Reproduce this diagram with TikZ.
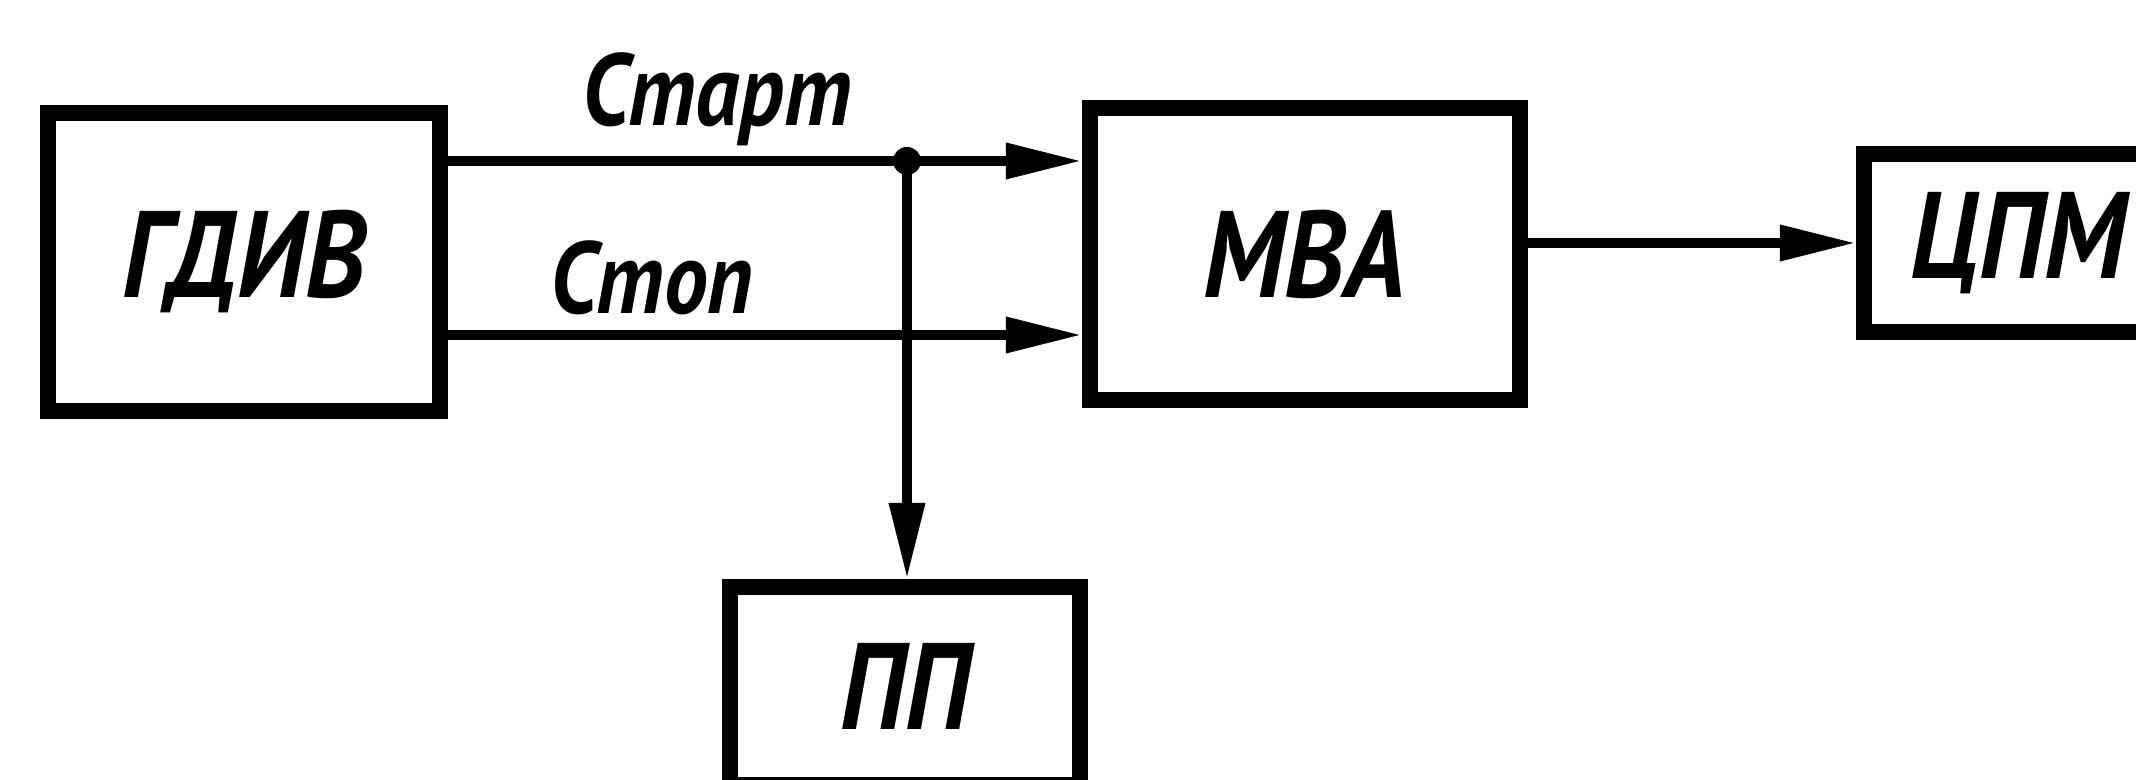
\documentclass[tikz,border=0pt]{standalone}
\usepackage{fontspec}
\newfontfamily\gostfont[FakeStretch=0.86]{PT Sans}
\usetikzlibrary{calc}
\usetikzlibrary{positioning}
\usetikzlibrary{arrows.meta}

\begin{document}
\begin{tikzpicture}[%
  x=0.01cm, y=-0.01cm,
  >={Triangle[length=0.76cm, width=0.34cm]},
  block/.style={draw, line width=0.16cm, inner sep=0pt,
    font=\gostfont\bfseries\itshape\fontsize{35}{35}\selectfont},
  signal/.style={line width=0.1cm},
  sname/.style={anchor=base, inner sep=0pt,
    font=\gostfont\bfseries\itshape\fontsize{29}{29}\selectfont},
  dot/.style={circle, fill, inner sep=0pt, minimum size=0.28cm},
]
  \useasboundingbox (0,0) rectangle (2136,780);

  % blocks
  \node[block, minimum width=3.91cm, minimum height=2.98cm] (gdiv) at (244,262) {ГДИВ};
  \node[block, minimum width=4.30cm, minimum height=2.92cm] (mva) at (1305,254) {МВА};
  \node[block, minimum width=3.08cm, minimum height=1.77cm] (cpm) at (2018,243) {ЦПМ};
  \node[block, minimum width=3.49cm, minimum height=1.98cm] (pp) at (905,686) {ПП};

  \node[dot] (jn) at (907,161) {};
  \coordinate (stopl) at (0,335);

  % signals
  \draw[signal,->] (jn -| gdiv.east) -- (jn -| mva.west);
  \draw[signal,->] (stopl -| gdiv.east) -- (stopl -| mva.west);
  \draw[signal,->] (jn.center) -- (jn |- pp.north);
  \draw[signal,->] (cpm.west -| mva.east) -- (cpm.west);

  \node[sname] (start) at (717,126) {Старт};
  \node[sname] (stop) at (652,314) {Стоп};

\end{tikzpicture}
\end{document}
